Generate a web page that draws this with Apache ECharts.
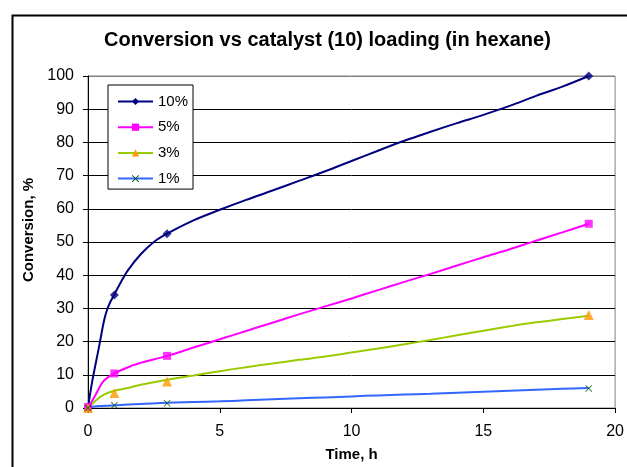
<!DOCTYPE html>
<html><head><meta charset="utf-8">
<script src="https://cdn.jsdelivr.net/npm/echarts@6/dist/echarts.min.js"></script>
<style>html,body{margin:0;padding:0;background:#fff}#c{width:627px;height:467px}</style>
</head><body><div id="c"></div>
<script>
const titleText = 'Conversion vs catalyst (10) loading (in hexane)';
const xName = 'Time, h';
const yName = 'Conversion, %';
const seriesNames = ['10%', '5%', '3%', '1%'];
const xMin = 0, xMax = 20, xStep = 5;
const yMin = 0, yMax = 100, yStep = 10;

// fitted curves (time h, conversion %)
const curve10 = [[0,0],[0.16,8],[0.42,18.5],[0.6,26],[0.72,29.5],[0.85,32],[1,34.2],[1.2,37.2],[1.5,41.3],[2,46.3],[2.5,50],[3,52.5],[4,56.5],[5,59.7],[6,62.7],[7,65.5],[8,68.4],[9,71.3],[10,74.4],[11,77.5],[12,80.5],[13,83.2],[14,85.8],[15,88.3],[16,91],[17,94],[18,96.8],[19,100]];
const curve5 = [[0,0],[0.29,4],[0.58,8],[1,10.4],[1.72,12.9],[2,13.6],[3,15.7],[4,18.2],[5,20.7],[6,23.2],[7,25.7],[8,28.2],[9,30.6],[10,33],[11,35.5],[12,38],[13,40.4],[14,42.9],[15,45.4],[16,47.8],[17,50.4],[18,52.9],[19,55.5]];
const curve3 = [[0,0],[0.33,2.5],[0.6,4],[1,5.2],[1.5,6],[2,7],[3,8.5],[4,9.8],[5,11.1],[6,12.3],[7,13.4],[8,14.5],[9,15.5],[10,16.7],[11,17.9],[12,19.2],[13,20.5],[14,21.9],[15,23.3],[16,24.6],[17,25.8],[18,26.8],[19,27.8]];
const curve1 = [[0,0],[0.3,0.5],[1,0.8],[1.5,1.05],[2,1.2],[3,1.6],[4,1.8],[5,2.0],[6,2.3],[7,2.6],[8,2.9],[9,3.2],[10,3.5],[11,3.8],[12,4.05],[13,4.3],[14,4.6],[15,4.9],[16,5.2],[17,5.5],[18,5.8],[19,6.0]];

// measured points
const points10 = [[0,0],[1,34],[3,52.5],[19,100]];
const points5 = [[0,0.3],[1,10.4],[3,15.7],[19,55.5]];
const points3 = [[0,0],[1,4.5],[3,8],[19,28]];
const points1 = [[0,0],[1,0.8],[3,1.4],[19,5.9]];

const curves = [curve10, curve5, curve3, curve1];
const points = [points10, points5, points3, points1];
const lineColors = ['#000080', '#FF00FF', '#99CC00', '#3366FF'];
const markColors = ['#000080', '#FF00FF', '#FF9900', '#0B5A1E'];
const crossPath = 'path://M0,1L1,0L5,4L9,0L10,1L6,5L10,9L9,10L5,6L1,10L0,9L4,5Z';
const markSymbols = ['diamond', 'rect', 'triangle', crossPath];
const markSizes = [9, 8, 10, 7];

const FONT = '"Liberation Sans", Arial, sans-serif';
const series = [];
seriesNames.forEach((n, i) => {
  series.push({
    type: 'line', name: n, data: curves[i], smooth: 0.35,
    showSymbol: false, symbol: markSymbols[i], symbolSize: markSizes[i],
    lineStyle: { color: lineColors[i], width: 2 },
    itemStyle: { color: markColors[i] },
    z: 2, silent: true
  });
});
seriesNames.forEach((n, i) => {
  series.push({
    type: 'scatter', name: n, data: points[i],
    symbol: markSymbols[i], symbolSize: markSizes[i],
    itemStyle: { color: markColors[i] },
    z: 3, silent: true
  });
});

const splitColors = [];
for (let v = yMin; v <= yMax; v += yStep) splitColors.push(v === yMax ? '#808080' : '#000000');

const chart = echarts.init(document.getElementById('c'), null, { renderer: 'canvas' });
chart.setOption({
  animation: false,
  backgroundColor: '#fff',
  textStyle: { fontFamily: FONT },
  title: {
    text: titleText, left: 104, top: 30, padding: 0,
    textStyle: { fontFamily: FONT, fontSize: 20, fontWeight: 'bold', color: '#000' }
  },
  grid: { left: 88, right: 11, top: 76, bottom: 56, show: true, borderColor: '#808080', borderWidth: 1, backgroundColor: 'transparent' },
  legend: {
    orient: 'vertical', left: 108, top: 85,
    padding: [8, 5, 2, 9], itemGap: 8.7, itemWidth: 35, itemHeight: 9,
    borderColor: '#000', borderWidth: 1, backgroundColor: '#fff',
    textStyle: { fontFamily: FONT, fontSize: 15, color: '#000', lineHeight: 17 },
    data: seriesNames.map((n, i) => ({ name: n, itemStyle: { color: markColors[i] } })),
    selectedMode: false
  },
  xAxis: {
    type: 'value', min: xMin, max: xMax, interval: xStep,
    name: xName, nameLocation: 'middle', nameGap: 39,
    nameTextStyle: { fontFamily: FONT, fontSize: 15, fontWeight: 'bold', color: '#000' },
    axisLine: { show: true, lineStyle: { color: '#000', width: 1 } },
    axisTick: { show: true, length: 5, lineStyle: { color: '#000' } },
    axisLabel: { fontFamily: FONT, fontSize: 16, color: '#000', margin: 16 },
    splitLine: { show: false }
  },
  yAxis: {
    type: 'value', min: yMin, max: yMax, interval: yStep,
    name: yName, nameLocation: 'middle', nameGap: 47, nameRotate: 90,
    nameTextStyle: { fontFamily: FONT, fontSize: 15, fontWeight: 'bold', color: '#000', padding: [0, 0, 0, 24] },
    axisLine: { show: true, lineStyle: { color: '#000', width: 1 } },
    axisTick: { show: true, length: 5, lineStyle: { color: '#000' } },
    axisLabel: { fontFamily: FONT, fontSize: 16, color: '#000', margin: 14 },
    splitLine: { show: true, lineStyle: { color: splitColors, width: 1 } }
  },
  graphic: [{
    type: 'rect', left: 10, top: 13, silent: true, z: 100,
    shape: { x: 0, y: 0, width: 700, height: 500 },
    style: { fill: 'none', stroke: '#000', lineWidth: 2 }
  }],
  series: series
});
</script>
</body></html>
